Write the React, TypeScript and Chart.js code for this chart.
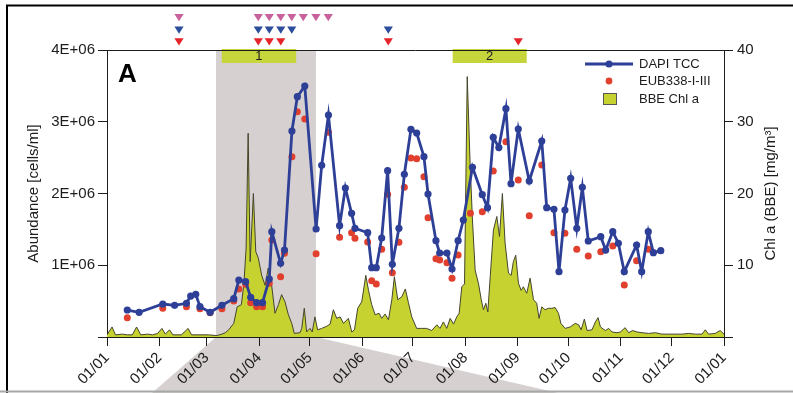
import React, { useEffect, useRef } from 'react';
import { Chart, registerables } from 'chart.js';

Chart.register(...registerables);

// ---------- data ----------
const monthStartDays = [0, 31, 59, 90, 120, 151, 181, 212, 243, 273, 304, 334, 365];
const monthLabels = ['01/01', '01/02', '01/03', '01/04', '01/05', '01/06', '01/07', '01/08', '01/09', '01/10', '01/11', '01/12', '01/01'];

const abundanceTicks = [0, 1e6, 2e6, 3e6, 4e6];
const abundanceTickLabels = ['', '1E+06', '2E+06', '3E+06', '4E+06'];
const chlTicks = [0, 10, 20, 30, 40];
const chlTickLabels = ['', '10', '20', '30', '40'];

const dapiDays = [12, 19, 33, 40, 47, 49.5, 52.5, 55, 61, 68, 75, 78, 82, 85, 88.5, 92, 96, 97.5, 102.7, 105, 109.4, 112.6, 117, 123.7, 127, 131, 137.6, 141, 144.7, 146.7, 154.2, 156.6, 159.3, 162.5, 166, 168.8, 172.7, 175.9, 179.8, 183.2, 187.5, 189.9, 194.6, 196.8, 201.1, 204.1, 207.7, 210.8, 216.2, 222, 225.1, 228.5, 231.8, 236, 239, 243.3, 249.8, 257.2, 260.1, 264.4, 267.4, 270.9, 274.3, 277.9, 281.2, 284.7, 292.1, 295, 299.2, 302.5, 306, 313.3, 316.3, 320.2, 323.2, 327.6];
const dapiValues = [376e3, 344e3, 460e3, 442e3, 470e3, 571e3, 595e3, 423e3, 344e3, 442e3, 534e3, 794e3, 771e3, 553e3, 478e3, 478e3, 808e3, 1468e3, 1027e3, 1212e3, 2871e3, 3349e3, 3498e3, 1505e3, 2393e3, 3094e3, 1551e3, 2077e3, 1724e3, 1515e3, 1454e3, 966e3, 966e3, 1380e3, 2318e3, 1013e3, 1515e3, 2268e3, 2895e3, 2843e3, 2513e3, 1993e3, 1342e3, 1171e3, 1171e3, 948e3, 1342e3, 1631e3, 2365e3, 1983e3, 1802e3, 2783e3, 2640e3, 3182e3, 2137e3, 2899e3, 2174e3, 2732e3, 1802e3, 1779e3, 910e3, 1770e3, 2212e3, 1515e3, 2086e3, 1338e3, 1398e3, 1212e3, 1468e3, 1306e3, 910e3, 1282e3, 910e3, 1468e3, 1175e3, 1203e3];

const eubDays = [12, 33, 47, 55, 61, 68, 75, 78, 82, 85, 88.5, 92, 96, 97.5, 102.7, 105, 109.4, 112.6, 117, 123.7, 131, 137.6, 144.7, 146.7, 154.2, 156.6, 159.3, 162.5, 166, 168.8, 172.7, 175.9, 179.8, 183.2, 187.5, 189.9, 194.6, 196.8, 201.1, 204.1, 207.7, 215, 222, 228.5, 236, 243.3, 249.8, 257.2, 264.4, 270.9, 277.9, 284.7, 292.1, 299.2, 306, 313.3, 320.2];
const eubValues = [269e3, 400e3, 423e3, 395e3, 339e3, 395e3, 502e3, 669e3, 734e3, 478e3, 423e3, 423e3, 748e3, 1352e3, 840e3, 1167e3, 2513e3, 3140e3, 3038e3, 1161e3, 2853e3, 1390e3, 1454e3, 1375e3, 1324e3, 785e3, 739e3, 1222e3, 1989e3, 896e3, 1320e3, 2086e3, 2495e3, 2485e3, 2234e3, 1663e3, 1091e3, 1073e3, 1036e3, 818e3, 1143e3, 1724e3, 1746e3, 2314e3, 2722e3, 2188e3, 1691e3, 2397e3, 1454e3, 1445e3, 1222e3, 1129e3, 1189e3, 1268e3, 725e3, 1063e3, 1222e3];

const chlDays = [0, 3, 5, 9, 12, 15, 17.5, 20, 24, 27, 30, 32.5, 34.5, 37, 39, 44, 48, 50, 55, 60, 65, 68, 70, 72, 75, 77, 79.5, 81, 82.3, 83.5, 84.7, 86.6, 88, 89.5, 91.5, 93.5, 95.4, 97.4, 99.4, 101.4, 103.3, 105.3, 107.3, 109.3, 110.8, 114.2, 115.2, 116.7, 118.1, 120.1, 121.4, 123, 124.6, 127, 130, 132, 133.9, 135.9, 137.9, 139.9, 142.8, 144.8, 146.4, 148.3, 150.7, 153.1, 154.7, 156.6, 158.6, 161, 162.5, 164.5, 166.5, 168.5, 170, 172, 174.4, 176.5, 178.3, 180.3, 183.2, 186.2, 189.1, 192.1, 195.1, 197, 199, 201, 203, 205, 206.9, 208.3, 209.9, 211.5, 213.1, 214.8, 216.2, 217.8, 219.8, 221.4, 222.7, 224.1, 225.3, 226.7, 228.6, 230.6, 232.2, 233.9, 235.5, 237.5, 239.1, 240.4, 241.8, 243.4, 245, 246.3, 248.3, 250.3, 252.3, 254.2, 255.6, 257.2, 259.2, 261.1, 263.1, 265.1, 267.1, 268.5, 271, 274, 277, 279, 280.5, 282.4, 284, 286.9, 288.9, 290.5, 291.9, 294.8, 296.8, 298.8, 301.7, 303.7, 306.5, 308.6, 311, 313.5, 316.5, 320.4, 324.4, 328.3, 334.2, 340.1, 344.1, 348, 352, 353.9, 355.9, 359.8, 362.7, 365];
const chlValues = [0.3, 1.4, 0.3, 0.4, 0.3, 0.3, 1.4, 0.3, 0.4, 0.3, 0.5, 1.2, 0.4, 1.0, 0.3, 0.3, 1.2, 0.3, 0.3, 0.3, 0.2, 0.4, 0.6, 1.0, 1.9, 4.2, 4.5, 7.5, 12.4, 28.4, 10.5, 20.0, 11.9, 11.0, 8.6, 7.2, 9.6, 7.2, 3.3, 4.5, 5.9, 4.9, 3.1, 1.9, 0.5, 0.6, 1.2, 4.0, 0.7, 1.2, 0.7, 2.8, 1.0, 1.2, 1.5, 1.8, 3.8, 2.6, 2.8, 1.9, 2.6, 0.7, 1.0, 4.0, 4.9, 8.6, 6.5, 4.5, 3.1, 3.3, 2.6, 3.2, 2.4, 5.2, 8.4, 5.2, 5.6, 6.7, 4.8, 2.8, 1.2, 1.2, 1.2, 0.9, 1.7, 1.2, 2.1, 1.2, 2.6, 1.8, 2.8, 3.3, 7.0, 7.4, 36.3, 24.2, 16.3, 9.3, 7.4, 5.2, 3.8, 4.7, 3.5, 8.4, 14.9, 16.8, 14.0, 20.0, 13.1, 8.9, 8.6, 10.5, 11.4, 7.5, 6.5, 7.0, 6.1, 8.2, 5.2, 4.7, 2.6, 4.2, 3.8, 4.0, 4.0, 4.1, 3.3, 1.9, 1.2, 1.4, 1.9, 1.7, 1.0, 2.5, 0.9, 1.0, 2.1, 2.7, 1.4, 0.9, 1.2, 0.7, 0.6, 0.7, 1.3, 0.6, 0.9, 0.7, 0.6, 0.5, 0.6, 0.4, 0.4, 0.4, 0.5, 0.4, 0.4, 1.0, 0.4, 0.5, 0.9, 0.4];

// sampling-event markers (day of year)
const pinkEventDays = [42.6, 89.5, 96.0, 102.8, 109.3, 116.1, 123.6, 130.9];
const blueEventDays = [42.6, 89.5, 96.0, 102.8, 109.3, 166.4];
const redEventDays = [42.6, 89.5, 96.0, 102.8, 166.4, 243.3];

// highlighted period and bloom boxes (day of year)
const shadePeriod = [64.5, 123.6];
const bloomLabels = ['1', '2'];
const bloomStarts = [67.9, 204.5];
const bloomEnds = [111.9, 248.3];

// ---------- style ----------
const FONT = '"Liberation Sans", Arial, Helvetica, sans-serif';
const BLUE = '#2d3f96';
const RED = '#e2402f';
const GREEN = '#c6d230';
const SHADE = '#d6d0d0';
const INK = '#1c1c1c';

const decor = {
  id: 'decor',
  beforeDraw(chart: any) {
    const { ctx, chartArea: a, scales } = chart;
    const x = scales.x;
    ctx.save();
    ctx.fillStyle = '#ffffff';
    ctx.fillRect(0, 0, chart.width, chart.height);
    const s0 = x.getPixelForValue(shadePeriod[0]);
    const s1 = x.getPixelForValue(shadePeriod[1]);
    ctx.fillStyle = SHADE;
    ctx.fillRect(s0, a.top, s1 - s0, a.bottom - a.top);
    // zoom fan below the axis
    ctx.beginPath();
    ctx.moveTo(s0, a.bottom);
    ctx.lineTo(s1, a.bottom);
    ctx.lineTo(558, chart.height);
    ctx.lineTo(152, chart.height);
    ctx.closePath();
    ctx.fill();
    // figure frame
    ctx.strokeStyle = '#000';
    ctx.lineWidth = 2;
    ctx.beginPath();
    ctx.moveTo(7, 5);
    ctx.lineTo(7, chart.height);
    ctx.moveTo(6, 5.5);
    ctx.lineTo(chart.width, 5.5);
    ctx.stroke();
    ctx.strokeStyle = '#a8a8a8';
    ctx.beginPath();
    ctx.moveTo(0, 391.5);
    ctx.lineTo(chart.width, 391.5);
    ctx.stroke();
    ctx.restore();
  },
  afterDraw(chart: any) {
    const { ctx, chartArea: a, scales } = chart;
    const x = scales.x;
    ctx.save();
    // bloom boxes
    ctx.font = `13px ${FONT}`;
    ctx.textAlign = 'center';
    ctx.textBaseline = 'middle';
    bloomLabels.forEach((lab, i) => {
      const b0 = x.getPixelForValue(bloomStarts[i]);
      const b1 = x.getPixelForValue(bloomEnds[i]);
      ctx.fillStyle = '#c5d53b';
      ctx.fillRect(b0, a.top - 1, b1 - b0, 14);
      ctx.fillStyle = INK;
      ctx.fillText(lab, (b0 + b1) / 2, a.top + 6.5);
    });
    // plot top border
    ctx.strokeStyle = INK;
    ctx.lineWidth = 1;
    ctx.beginPath();
    ctx.moveTo(a.left, a.top + 0.5);
    ctx.lineTo(a.right, a.top + 0.5);
    ctx.stroke();
    // event triangles
    const tri = (days: number[], cy: number, color: string) => {
      ctx.fillStyle = color;
      days.forEach((d) => {
        const cx = x.getPixelForValue(d);
        ctx.beginPath();
        ctx.moveTo(cx - 4.6, cy - 3.5);
        ctx.lineTo(cx + 4.6, cy - 3.5);
        ctx.lineTo(cx, cy + 3.8);
        ctx.closePath();
        ctx.fill();
      });
    };
    tri(pinkEventDays, 17.5, '#c8629d');
    tri(blueEventDays, 30, '#2c4c9c');
    tri(redEventDays, 41.7, '#e4242a');
    // panel letter
    ctx.fillStyle = '#000';
    ctx.font = `bold 26px ${FONT}`;
    ctx.textAlign = 'left';
    ctx.textBaseline = 'alphabetic';
    ctx.fillText('A', 118, 82);
    // legend
    ctx.strokeStyle = BLUE;
    ctx.lineWidth = 2.8;
    ctx.beginPath();
    ctx.moveTo(585, 64);
    ctx.lineTo(633, 64);
    ctx.stroke();
    ctx.fillStyle = BLUE;
    ctx.beginPath();
    ctx.arc(609, 64, 3.6, 0, Math.PI * 2);
    ctx.fill();
    ctx.fillStyle = RED;
    ctx.beginPath();
    ctx.arc(609, 81, 3.4, 0, Math.PI * 2);
    ctx.fill();
    ctx.fillStyle = GREEN;
    ctx.fillRect(603, 93, 14, 12);
    ctx.strokeStyle = '#555';
    ctx.lineWidth = 1;
    ctx.strokeRect(603.5, 93.5, 13, 11);
    ctx.fillStyle = INK;
    ctx.font = `13px ${FONT}`;
    ctx.textBaseline = 'middle';
    ctx.fillText('DAPI TCC', 639, 64);
    ctx.fillText('EUB338-I-III', 639, 81);
    ctx.fillText('BBE Chl a', 639, 99);
    // axis titles
    ctx.font = `15px ${FONT}`;
    ctx.textAlign = 'center';
    ctx.save();
    ctx.translate(34, (a.top + a.bottom) / 2);
    ctx.rotate(-Math.PI / 2);
    ctx.fillText('Abundance [cells/ml]', 0, 0);
    ctx.restore();
    ctx.save();
    ctx.translate(771, (a.top + a.bottom) / 2);
    ctx.rotate(-Math.PI / 2);
    ctx.fillText('Chl a (BBE) [mg/m³]', 0, 0);
    ctx.restore();
    ctx.restore();
  },
};

export default function App() {
  const ref = useRef<HTMLCanvasElement>(null);
  useEffect(() => {
    const tickFont = { family: FONT, size: 15 };
    const chart = new Chart(ref.current as HTMLCanvasElement, {
      type: 'line',
      data: {
        datasets: [
          {
            label: 'DAPI TCC',
            data: dapiDays.map((d, i) => ({ x: d, y: dapiValues[i] })),
            yAxisID: 'y',
            borderColor: BLUE,
            backgroundColor: BLUE,
            borderWidth: 2.8,
            pointRadius: 3.6,
            pointBorderWidth: 0,
            pointBackgroundColor: BLUE,
            tension: 0,
            order: 1,
          },
          {
            label: 'EUB338-I-III',
            data: eubDays.map((d, i) => ({ x: d, y: eubValues[i] })),
            yAxisID: 'y',
            showLine: false,
            borderColor: RED,
            backgroundColor: RED,
            pointRadius: 3.5,
            pointBorderWidth: 0,
            pointBackgroundColor: RED,
            order: 2,
          },
          {
            label: 'BBE Chl a',
            data: chlDays.map((d, i) => ({ x: d, y: chlValues[i] })),
            yAxisID: 'y2',
            fill: 'origin',
            backgroundColor: GREEN,
            borderColor: '#45452e',
            borderWidth: 1,
            pointRadius: 0,
            tension: 0,
            order: 3,
          },
        ],
      },
      options: {
        responsive: false,
        animation: false,
        events: [],
        layout: { padding: { top: 50, left: 0, right: 0, bottom: 0 } },
        plugins: { legend: { display: false }, tooltip: { enabled: false } },
        scales: {
          x: {
            type: 'linear',
            position: 'bottom',
            min: 0,
            max: 365,
            afterBuildTicks: (s: any) => {
              s.ticks = monthStartDays.map((v) => ({ value: v }));
            },
            afterFit: (s: any) => {
              s.height = 56;
            },
            ticks: {
              autoSkip: false,
              minRotation: 45,
              maxRotation: 45,
              padding: 3,
              color: INK,
              font: tickFont,
              callback: (_v: any, i: number) => monthLabels[i],
            },
            grid: { drawOnChartArea: false, drawTicks: true, tickLength: 9, color: INK },
            border: { display: true, color: INK, width: 1 },
          },
          y: {
            type: 'linear',
            position: 'left',
            min: 0,
            max: 4e6,
            afterBuildTicks: (s: any) => {
              s.ticks = abundanceTicks.map((v) => ({ value: v }));
            },
            afterFit: (s: any) => {
              s.width = 107;
            },
            ticks: {
              padding: 3,
              color: INK,
              font: tickFont,
              callback: (_v: any, i: number) => abundanceTickLabels[i],
            },
            grid: { drawOnChartArea: false, drawTicks: true, tickLength: 9, color: INK },
            border: { display: true, color: INK, width: 1 },
          },
          y2: {
            type: 'linear',
            position: 'right',
            min: 0,
            max: 40,
            afterBuildTicks: (s: any) => {
              s.ticks = chlTicks.map((v) => ({ value: v }));
            },
            afterFit: (s: any) => {
              s.width = 69;
            },
            ticks: {
              padding: 4,
              color: INK,
              font: tickFont,
              callback: (_v: any, i: number) => chlTickLabels[i],
            },
            grid: { drawOnChartArea: false, drawTicks: true, tickLength: 9, color: INK },
            border: { display: true, color: INK, width: 1 },
          },
        },
      } as any,
      plugins: [decor],
    });
    return () => chart.destroy();
  }, []);
  return (
    <div style={{ position: 'absolute', left: 0, top: 0, width: 793, height: 393, background: '#fff' }}>
      <canvas ref={ref} width={793} height={393} style={{ display: 'block' }} />
    </div>
  );
}
